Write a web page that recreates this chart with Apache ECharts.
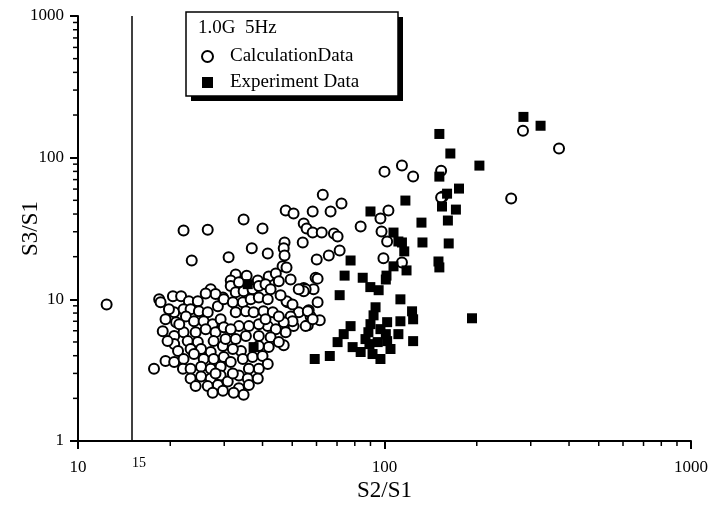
<!DOCTYPE html>
<html>
<head>
<meta charset="utf-8">
<script src="https://cdn.jsdelivr.net/npm/echarts@6/dist/echarts.min.js"></script>
<style>
  html, body { margin: 0; padding: 0; background: #fff; }
  #chart { width: 711px; height: 505px; }
</style>
</head>
<body>
<div id="chart"></div>
<script>
// S2/S1 vs S3/S1, 1.0G 5Hz
const legendTitle = "1.0G  5Hz"
const calcName = "CalculationData"
const expName = "Experiment Data"
const cutoffX = 15

const xMinorTicks = [20, 30, 40, 50, 60, 70, 80, 90, 200, 300, 400, 500, 600, 700, 800, 900]
const yMinorTicks = [2, 3, 4, 5, 6, 7, 8, 9, 20, 30, 40, 50, 60, 70, 80, 90, 200, 300, 400, 500, 600, 700, 800, 900]

// calculation data [S2/S1, S3/S1]
const calcPoints = [
  [12.4, 9.2],
  [22.1, 30.6], [26.5, 31.0], [34.7, 36.6], [40.0, 31.6], [23.5, 18.8], [31.0, 19.8], [36.9, 22.9], [41.6, 21.1],
  [47.6, 42.4], [50.5, 40.4], [58.3, 41.7], [54.5, 34.3], [55.7, 31.6], [58.3, 29.6], [54.1, 25.2], [47.2, 25.2],
  [46.9, 22.9], [46.5, 17.1], [60.1, 19.1], [62.9, 54.8], [32.7, 15.0], [31.5, 13.6], [38.6, 13.6], [41.9, 14.5],
  [44.2, 15.2], [45.2, 13.4], [59.6, 14.2],
  [66.7, 41.7], [72.4, 47.4], [103, 42.4], [97.0, 37.2], [83.6, 32.7], [62.4, 29.6], [68.4, 29.2], [70.3, 27.8],
  [97.8, 30.1], [102, 25.6], [71.4, 22.1], [65.8, 20.4], [99.2, 19.5], [114, 18.2], [155, 53.1],
  [60.5, 14.0], [54.5, 12.0], [58.7, 11.8], [60.5, 9.52], [48.3, 9.52], [56.6, 8.38], [61.5, 7.12], [56.2, 6.57],
  [50.5, 6.47], [46.9, 4.75],
  [100, 79.7], [114, 87.9], [124, 73.5], [153, 80.9], [153, 52.3], [259, 51.4], [283, 155], [371, 116],
  [55.3, 11.8], [57.4, 7.58], [55.3, 6.47],
  [52.5, 8.10], [56.2, 8.23], [58.3, 7.23], [54.5, 11.4], [49.4, 7.58], [50.1, 7.0], [46.9, 6.9], [47.6, 5.86],
  [47.2, 20.4], [47.9, 16.8], [49.4, 13.8], [52.5, 11.8], [29.7, 10.3], [27.1, 11.8], [28.1, 10.9],
  // dense cluster, left part
  [18.4, 10.0], [18.6, 9.52], [20.4, 10.5], [21.7, 10.5], [23.0, 9.68], [24.6, 9.68], [20.6, 8.10], [22.1, 8.51],
  [23.3, 8.51], [24.8, 8.23], [26.5, 8.10], [28.6, 8.93], [29.9, 10.0], [20.9, 6.9], [22.5, 7.58], [23.9, 7.0],
  [25.7, 7.0], [27.5, 6.68], [29.2, 7.23], [18.9, 5.96], [20.6, 5.50], [22.1, 5.86], [24.2, 5.86], [26.1, 6.16],
  [28.1, 5.86], [29.9, 6.36], [20.6, 4.83], [22.8, 5.07], [24.6, 4.99], [27.7, 5.07], [29.7, 4.68], [19.6, 5.07],
  [21.2, 4.32], [23.3, 4.46], [25.2, 4.46], [27.1, 4.25], [19.3, 3.67], [20.6, 3.61], [22.1, 3.79], [23.9, 4.11],
  [25.7, 3.79], [27.7, 3.79], [29.9, 3.92], [17.7, 3.23], [22.0, 3.23], [23.3, 3.23], [25.2, 3.34], [27.1, 3.23],
  [29.2, 3.34], [23.3, 2.76], [25.2, 2.85], [27.1, 2.76], [29.2, 2.90], [24.2, 2.44], [26.5, 2.44], [28.6, 2.48],
  [30.8, 2.63], [27.5, 2.19], [29.7, 2.26],
  [26.1, 11.0], [19.3, 7.23], [19.8, 8.51], [21.4, 6.68], [30.3, 5.24], [28.1, 3.0],
  // dense cluster, right part
  [31.5, 12.4], [32.7, 11.2], [34.7, 11.4], [37.1, 11.8], [38.9, 12.4], [40.9, 12.8], [47.9, 9.68],
  [32.0, 9.52], [34.5, 9.52], [36.6, 10.0], [38.9, 10.3], [41.6, 10.0], [32.7, 8.10], [35.3, 8.23], [37.4, 8.10],
  [40.3, 8.23], [43.2, 8.10], [45.2, 7.58], [41.6, 6.47], [38.9, 6.68], [36.1, 6.47], [33.5, 6.47], [31.5, 6.16],
  [44.2, 6.16], [32.7, 5.24], [35.3, 5.50], [38.9, 5.50], [42.5, 5.41], [45.2, 4.99], [41.9, 4.60], [38.9, 4.68],
  [34.0, 4.32], [32.0, 4.46], [31.5, 3.61], [34.5, 3.79], [37.1, 3.92], [40.0, 3.98], [41.6, 3.50], [38.9, 3.23],
  [36.1, 3.23], [33.5, 2.90], [32.0, 2.99], [35.8, 2.76], [38.6, 2.76], [33.5, 2.36], [36.1, 2.48], [34.7, 2.12],
  [32.2, 2.19],
  [33.5, 13.2], [35.5, 14.7], [42.5, 11.8], [45.8, 10.7], [50.1, 9.2], [40.9, 7.23]
]

// experiment data [S2/S1, S3/S1]
const expPoints = [
  [35.8, 12.8], [37.4, 4.60],
  [284, 194], [323, 168], [151, 147], [164, 107], [204, 87.9], [151, 73.5], [175, 60.5], [160, 55.7],
  [117, 49.8], [154, 45.2], [171, 43.0], [161, 36.0], [132, 34.8], [133, 25.2], [162, 24.8], [114, 25.2],
  [90.0, 41.7], [107, 29.6], [111, 25.6], [116, 21.8], [77.5, 18.8], [74.1, 14.7], [84.9, 14.2], [118, 16.0],
  [107, 17.1], [101.5, 14.7], [89.9, 12.2], [95.7, 11.6], [101, 13.8], [151, 16.8], [150, 18.5], [71.4, 10.7],
  [112.7, 10.0], [93.5, 8.79], [92.1, 7.71], [123, 8.23], [124, 7.23], [112.7, 7.0], [77.5, 6.47], [102, 6.9],
  [88.6, 5.86], [97.0, 6.16], [111, 5.68], [73.6, 5.68], [70.3, 4.99], [78.7, 4.60], [83.6, 4.25], [91.4, 4.11],
  [97.0, 3.79], [104.6, 4.46], [102, 5.07], [95.0, 4.99], [89.3, 4.83], [124, 5.07], [66.3, 3.98], [59.2, 3.79],
  [193, 7.35], [90.0, 6.68], [101, 5.68], [86.7, 5.24]
]

const serif = "Liberation Serif"

const chart = echarts.init(document.getElementById("chart"), null, { renderer: "canvas" })

function logAxis(extra) {
  return {
    type: "log",
    logBase: 10,
    nameMoveOverlap: false,
    axisLine: { show: true, lineStyle: { color: "#000", width: 2 } },
    axisTick: { show: true, inside: false, length: 8, lineStyle: { color: "#000", width: 2 } },
    splitLine: { show: false },
    nameTextStyle: { color: "#000", fontFamily: serif, fontSize: 23 },
    ...extra,
  }
}

function tickRenderer(dir) {
  return function (params, api) {
    const p = api.coord([api.value(0), api.value(1)])
    const shape = dir === "x"
      ? { x1: p[0], y1: p[1], x2: p[0], y2: p[1] + 5 }
      : { x1: p[0], y1: p[1], x2: p[0] - 5, y2: p[1] }
    return { type: "line", shape: shape, style: { stroke: "#000", lineWidth: 1.5 } }
  }
}

chart.setOption({
  backgroundColor: "#fff",
  animation: false,
  grid: { left: 78, right: 20, top: 16, bottom: 64, containLabel: false, outerBoundsMode: "none" },
  xAxis: logAxis({
    min: 10,
    max: 1000,
    name: "S2/S1",
    nameLocation: "middle",
    nameGap: 38,
    axisLabel: {
      color: "#000", fontFamily: serif, fontSize: 17, margin: 18,
      formatter: (v) => String(Math.round(v)),
    },
  }),
  yAxis: logAxis({
    min: 1,
    max: 1000,
    name: "S3/S1",
    nameLocation: "middle",
    nameGap: 36,
    nameRotate: 90,
    axisLabel: {
      color: "#000", fontFamily: serif, fontSize: 17, margin: 14,
      formatter: (v) => String(Math.round(v)),
    },
  }),
  graphic: [
    { type: "rect", z: 1, shape: { x: 191, y: 17, width: 212, height: 84 }, style: { fill: "#000" } },
    { type: "rect", z: 2, shape: { x: 186, y: 12, width: 212, height: 84 }, style: { fill: "#fff", stroke: "#000", lineWidth: 1.5 } },
    { type: "text", z: 3, x: 198, y: 19, style: { text: legendTitle, fill: "#000", font: "19px 'Liberation Serif'" } },
  ],
  legend: {
    z: 10,
    orient: "vertical",
    left: 196,
    top: 42,
    itemGap: 7,
    itemWidth: 11,
    itemHeight: 11,
    data: [calcName, expName],
    textStyle: { color: "#000", fontFamily: serif, fontSize: 19, padding: [0, 0, 0, 12] },
  },
  series: [
    {
      name: calcName,
      type: "scatter",
      symbol: "circle",
      symbolSize: 10,
      itemStyle: { color: "#fff", borderColor: "#000", borderWidth: 2, opacity: 1 },
      data: calcPoints,
      markLine: {
        silent: true,
        symbol: "none",
        animation: false,
        lineStyle: { color: "#000", width: 1.5, type: "solid" },
        label: {
          show: true,
          position: "start",
          distance: 15,
          padding: [0, 0, 0, 14],
          formatter: String(cutoffX),
          color: "#000",
          fontFamily: serif,
          fontSize: 14,
        },
        data: [{ xAxis: cutoffX }],
      },
    },
    {
      name: expName,
      type: "scatter",
      symbol: "rect",
      symbolSize: 10,
      itemStyle: { color: "#000", opacity: 1 },
      data: expPoints,
    },
    {
      type: "custom",
      silent: true,
      clip: false,
      renderItem: tickRenderer("x"),
      data: xMinorTicks.map((v) => [v, 1]),
    },
    {
      type: "custom",
      silent: true,
      clip: false,
      renderItem: tickRenderer("y"),
      data: yMinorTicks.map((v) => [10, v]),
    },
  ],
})
</script>
</body>
</html>
